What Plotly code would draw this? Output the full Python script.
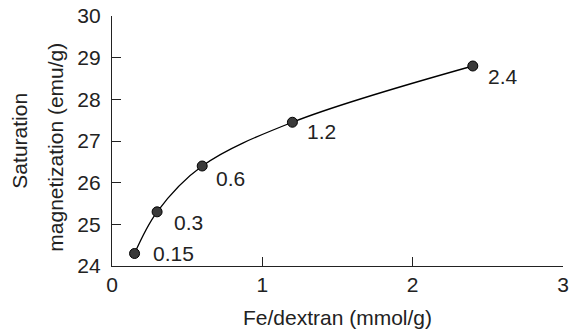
import plotly.graph_objects as go

fe_dextran = [0.15, 0.3, 0.6, 1.2, 2.4]
saturation = [24.3, 25.3, 26.4, 27.45, 28.8]
point_labels = ["0.15", "0.3", "0.6", "1.2", "2.4"]
label_shift_x = [16, 15, 12, 13, 13]
label_shift_y = [0, -11, -12, -9, -10]

x_ticks = [0, 1, 2, 3]
y_ticks = [24, 25, 26, 27, 28, 29, 30]

FONT = "Liberation Sans, Arial, sans-serif"
TXT = "#222222"
FS = 21

fig = go.Figure()
fig.add_trace(go.Scatter(
    x=fe_dextran, y=saturation, mode="lines+markers",
    line=dict(color="black", width=1.3, shape="spline", smoothing=1),
    marker=dict(size=10, color="#3a3a3a", line=dict(color="black", width=1)),
    showlegend=False, cliponaxis=False,
))

for x, y, t, dx, dy in zip(fe_dextran, saturation, point_labels, label_shift_x, label_shift_y):
    fig.add_annotation(x=x, y=y, text=t, showarrow=False, xanchor="left", yanchor="middle",
                       xshift=dx, yshift=dy, font=dict(size=FS, color=TXT, family=FONT))

fig.add_annotation(x=-0.207, y=0.5, xref="paper", yref="paper", text="Saturation",
                   textangle=-90, showarrow=False, xanchor="center", yanchor="middle",
                   font=dict(size=FS, color=TXT, family=FONT))
fig.add_annotation(x=-0.126, y=0.474, xref="paper", yref="paper", text="magnetization (emu/g)",
                   textangle=-90, showarrow=False, xanchor="center", yanchor="middle",
                   font=dict(size=FS, color=TXT, family=FONT))

fig.update_layout(
    width=570, height=332,
    margin=dict(l=112, r=7, t=16, b=66),
    paper_bgcolor="white", plot_bgcolor="white",
    font=dict(family=FONT, size=FS, color=TXT),
    xaxis=dict(range=[0, 3], tickvals=x_ticks, ticks="inside", ticklen=9, tickwidth=1.2,
               tickcolor="#222", showline=True, linecolor="#222", linewidth=1.3,
               showgrid=False, zeroline=False, ticklabeloverflow="allow", automargin=False,
               title=dict(text="Fe/dextran (mmol/g)", standoff=14, font=dict(size=FS))),
    yaxis=dict(range=[24, 30], tickvals=y_ticks, ticks="inside", ticklen=9, tickwidth=1.2,
               tickcolor="#222", showline=True, linecolor="#222", linewidth=1.3,
               showgrid=False, zeroline=False, ticklabelstandoff=6, automargin=False),
)

fig.write_html("out.html", config={"displayModeBar": False},
               post_script="document.body.style.margin='0';")
